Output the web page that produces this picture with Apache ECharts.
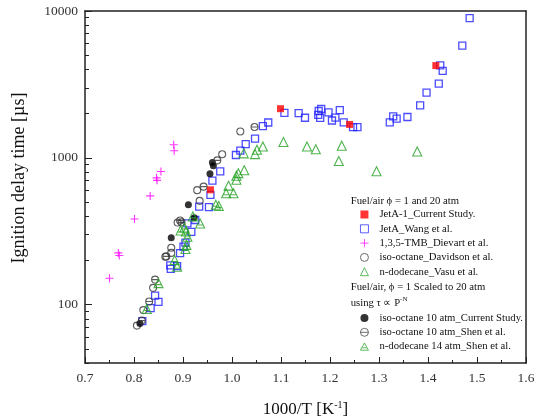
<!DOCTYPE html>
<html><head><meta charset="utf-8">
<script src="https://cdn.jsdelivr.net/npm/echarts@6/dist/echarts.min.js"></script>
<style>html,body{margin:0;padding:0;background:#fff}#c{width:542px;height:420px}</style>
</head><body><div id="c"></div>
<script>
// ---- data (x = 1000/T [1/K], y = ignition delay time [us]) ----
const jetA1Current = [[1.099,2160],[1.240,1688],[1.416,4246],[0.956,605]];
const jetAWang = [[1.485,8930],[1.470,5813],[1.425,4266],[1.430,3906],[1.422,3200],[1.397,2778],[1.384,2275],
  [1.358,1896],[1.329,1914],[1.336,1846],[1.322,1742],[1.256,1620],[1.247,1620],[1.228,1742],[1.220,2110],
  [1.211,1875],[1.204,1795],[1.197,2038],[1.182,2150],[1.177,2084],[1.176,1960],[1.180,1869],[1.149,1874],
  [1.136,2013],[1.107,2022],[1.074,1739],[1.063,1641],[1.047,1352],[1.028,1238],[1.017,1120],[1.008,1045],
  [0.976,809],[0.960,699],[0.956,559],[0.953,461],[0.933,465],[0.925,377],[0.909,358],[0.917,313],
  [0.905,264],[0.901,248],[0.894,224],[0.874,185],[0.875,175],[0.888,183],[0.843,115],[0.850,104.5],
  [0.834,94.6],[0.817,77.2]];
const tmbDievart = [[0.881,1227],[0.882,1116],[0.855,806],[0.846,730],[0.847,702],[0.833,550],
  [0.801,383],[0.768,225],[0.770,216],[0.750,151]];
const isoOctaneDavidson = [[1.017,1512],[0.980,1057],[0.929,602],[0.934,509],[0.889,362],[0.876,244],
  [0.876,225],[0.864,212],[0.839,130],[0.819,91.7],[0.806,71.9]];
const dodecaneVasu = [[1.105,1280],[1.153,1194],[1.171,1143],[1.224,1208],[1.218,951],[1.295,810],
  [1.378,1104],[1.063,1194],[1.051,1134],[1.047,1060],[1.024,1072],[1.025,822],[1.013,786],[1.009,754],
  [1.009,708],[0.993,646]];
const isoOctaneCurrent = [[0.960,929],[0.962,882],[0.955,778],[0.911,478],[0.923,391],[0.876,285],[0.812,74.4]];
const isoOctaneShen = [[1.046,1620],[0.970,961],[0.942,636],[0.894,374],[0.897,363],[0.866,213],
  [0.843,148],[0.831,105],[0.816,77.8]];
const dodecaneShen = [[0.988,574],[1.003,574],[0.967,479],[0.973,470],[0.920,399],[0.935,357],[0.895,320],
  [0.903,335],[0.906,315],[0.909,290],[0.907,255],[0.905,239],[0.883,201],[0.888,181],[0.850,140],[0.826,93.2]];

const yMajorTicks = [100, 1000, 10000];
const yMinorTicks = [40,50,60,70,80,90,200,300,400,500,600,700,800,900,2000,3000,4000,5000,6000,7000,8000,9000];

const names1 = ['JetA-1_Current Study.','JetA_Wang et al.','1,3,5-TMB_Dievart et al.','iso-octane_Davidson et al.','n-dodecane_Vasu et al.'];
const names2 = ['iso-octane 10 atm_Current Study.','iso-octane 10 atm_Shen et al.','n-dodecane 14 atm_Shen et al.'];

const FF = '"Liberation Serif","Times New Roman",serif';
const AX = '#222';
const thetaPath = 'path://M0,5 A5,5 0 1,1 10,5 A5,5 0 1,1 0,5 Z M0,5 L10,5';
const triLinePath = 'path://M5,0 L10,9 L0,9 Z M2.2,6 L7.8,6';
const crossPath = 'path://M5,0 L5,10 M0,5 L10,5';
const hollow = 'rgba(0,0,0,0)';

const legendBase = {
  orient:'vertical', left:360, padding:0,
  itemWidth:8, itemHeight:8, itemGap:0.3, selectedMode:false,
  textStyle:{fontSize:10.7,lineHeight:14,fontFamily:FF,color:'#111',padding:[0,0,0,6]}
};
const legendItem = n => ({name:n, itemStyle:{borderWidth:0.9}});

const chart = echarts.init(document.getElementById('c'), null, {renderer:'canvas'});
chart.setOption({
  animation:false,
  backgroundColor:'#fff',
  grid:{left:85,right:16,top:11,bottom:57,outerBoundsMode:'none',containLabel:false},
  xAxis:[{
    type:'value', min:0.7, max:1.6, interval:0.1,
    axisLine:{lineStyle:{color:AX,width:1.5}},
    axisTick:{inside:true,length:6,lineStyle:{color:AX}},
    minorTick:{show:true,splitNumber:2,length:3,lineStyle:{color:AX}},
    splitLine:{show:false},
    axisLabel:{formatter:v=>v.toFixed(1),margin:8,fontSize:13.5,color:'#333',fontFamily:FF},
    name:'{n|1000/T [K}{sup|-1}{n|]}', nameLocation:'middle', nameGap:37,
    nameTextStyle:{fontFamily:FF,color:'#111',rich:{n:{fontSize:17,fontFamily:FF,color:'#111',lineHeight:20},sup:{fontSize:10,fontFamily:FF,color:'#111',verticalAlign:'top',lineHeight:12}}}
  },{
    type:'value', position:'top', min:0.7, max:1.6,
    axisLine:{show:true,lineStyle:{color:AX,width:1.5}},
    axisTick:{show:false}, axisLabel:{show:false}, splitLine:{show:false}
  }],
  yAxis:[{
    type:'log', logBase:10, min:40, max:10000,
    axisLine:{show:true,lineStyle:{color:AX,width:1.5}},
    axisTick:{inside:true,length:7,customValues:yMajorTicks,lineStyle:{color:AX}},
    axisLabel:{customValues:yMajorTicks,formatter:v=>String(Math.round(v)),margin:7,fontSize:13.5,color:'#333',fontFamily:FF},
    splitLine:{show:false},
    name:'Ignition delay time [µs]', nameLocation:'middle', nameGap:57,
    nameTextStyle:{fontSize:18,fontFamily:FF,color:'#111',padding:[0,0,0,18]}
  },{
    type:'log', logBase:10, min:40, max:10000, position:'left',
    axisLine:{show:false},
    axisTick:{inside:true,length:4,customValues:yMinorTicks,lineStyle:{color:AX}},
    axisLabel:{show:false}, splitLine:{show:false}
  },{
    type:'log', logBase:10, min:40, max:10000, position:'right',
    axisLine:{show:true,lineStyle:{color:AX,width:1.5}},
    axisTick:{show:false}, axisLabel:{show:false}, splitLine:{show:false}
  }],
  legend:[
    Object.assign({}, legendBase, {data:[names1[0]].concat(names1.slice(1).map(legendItem)), top:207.5}),
    Object.assign({}, legendBase, {data:[names2[0]].concat(names2.slice(1).map(legendItem)), top:311})
  ],
  graphic:[
    {type:'text', left:350.7, top:195.5, style:{text:'Fuel/air ϕ = 1 and 20 atm', font:'10.7px "Liberation Serif", serif', fill:'#111'}},
    {type:'text', left:350.7, top:281.5, style:{text:'Fuel/air, ϕ = 1 Scaled to 20 atm', font:'10.7px "Liberation Serif", serif', fill:'#111'}},
    {type:'text', left:350.7, top:296, style:{text:'{n|using τ ∝ P}{s|-N}', rich:{n:{fontSize:10.7,fontFamily:FF,fill:'#111',lineHeight:14},s:{fontSize:7,fontFamily:FF,fill:'#111',verticalAlign:'top',lineHeight:9}}}}
  ],
  series:[
    {name:names1[0], type:'scatter', data:jetA1Current, symbol:'rect', symbolSize:7, itemStyle:{color:'#ff0000'}, z:5},
    {name:names1[1], type:'scatter', data:jetAWang, symbol:'rect', symbolSize:7, itemStyle:{color:hollow,borderColor:'#1f1fff',borderWidth:1.3}},
    {name:names1[2], type:'scatter', data:tmbDievart, symbol:crossPath, symbolSize:8, itemStyle:{color:hollow,borderColor:'#ff00ff',borderWidth:1.1}},
    {name:names1[3], type:'scatter', data:isoOctaneDavidson, symbol:'circle', symbolSize:7, itemStyle:{color:hollow,borderColor:'#333',borderWidth:1.1}},
    {name:names1[4], type:'scatter', data:dodecaneVasu, symbol:'triangle', symbolSize:9, itemStyle:{color:hollow,borderColor:'#22a022',borderWidth:1.1}},
    {name:names2[0], type:'scatter', data:isoOctaneCurrent, symbol:'circle', symbolSize:7, itemStyle:{color:'#000'}},
    {name:names2[1], type:'scatter', data:isoOctaneShen, symbol:thetaPath, symbolSize:7, itemStyle:{color:hollow,borderColor:'#333',borderWidth:1.1}},
    {name:names2[2], type:'scatter', data:dodecaneShen, symbol:triLinePath, symbolSize:9, itemStyle:{color:hollow,borderColor:'#22a022',borderWidth:1.1}}
  ]
});
</script></body></html>
